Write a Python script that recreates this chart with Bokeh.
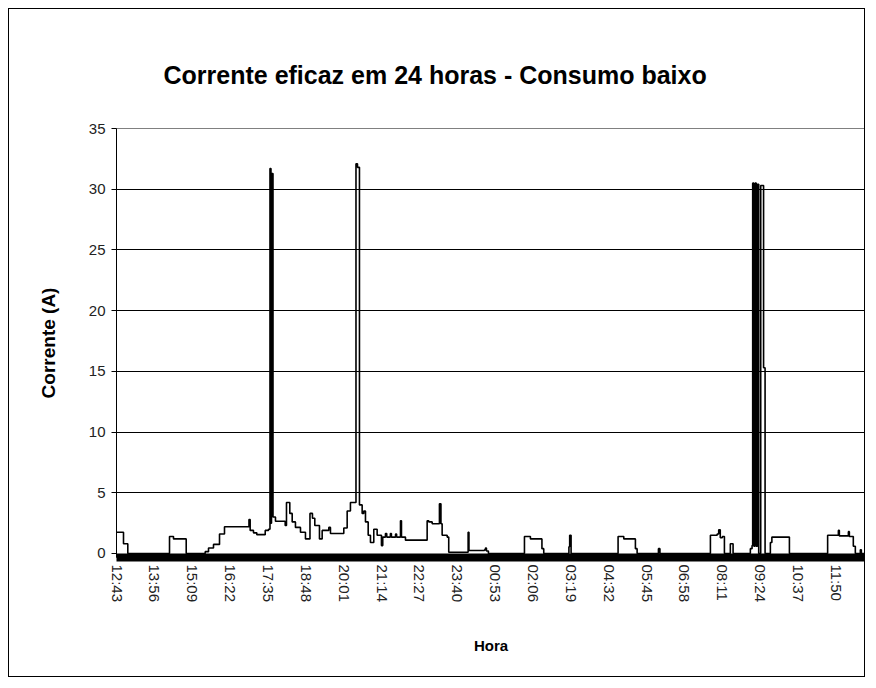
from bokeh.plotting import figure
from bokeh.models import Range1d, FixedTicker
from bokeh.embed import file_html
from bokeh.resources import INLINE

# minutes after 12:43 at which the reading changes, and the current (A) from there on
minutes = [0, 12.5, 20.8, 101.2, 108.9, 133.4, 170, 176.4, 186, 197.6, 207.2, 254.4, 256.7, 263.1,
           269.5, 285.7, 292, 294.9, 296.8, 297.8, 300.7, 305.5, 324.2, 326.7, 333.1, 337.7, 344,
           353.7, 363.3, 372, 376.8, 381.3, 390.3, 395.5, 408.3, 411.5, 437.2, 443.7, 450, 460.7,
           463.6, 467.4, 472.6, 475.7, 479, 484.2, 488.6, 495, 501.5, 509.8, 512.3, 517.5, 520,
           527, 529, 537, 539, 546.5, 548.4, 556.1, 597.9, 601, 607.6, 621.6, 624.5, 626.8, 636.5,
           639.5, 676.9, 678.5, 708.4, 710.3, 712.2, 716, 785.5, 797, 819.2, 822.7, 871.2, 872.7,
           875.4, 966, 977, 999.4, 1002.7, 1043.8, 1046.7, 1144, 1157, 1160, 1163, 1167, 1171,
           1182.4, 1187.7, 1221, 1224.3, 1225.5, 1227.8, 1230.1, 1232.4, 1234.7, 1237.1, 1241,
           1246.5, 1249.4, 1259.6, 1262.5, 1296.3, 1370, 1390.7, 1392.6, 1410, 1411.9, 1419.5,
           1423.4, 1433, 1435, 1440]
current = [1.75, 0.8, 0, 1.4, 1.2, 0, 0.15, 0.45, 0.75, 1.6, 2.2, 2.8, 1.9, 1.7,
           1.55, 1.9, 2.0, 31.7, 2.5, 31.3, 3.0, 2.65, 2.3, 4.2, 3.3, 2.6, 2.15,
           1.75, 1.2, 3.3, 2.9, 2.3, 1.2, 1.9, 2.15, 1.65, 2.1, 3.5, 4.2, 32.1,
           31.8, 4.0, 3.3, 3.5, 2.6, 1.5, 0.9, 2.0, 1.5, 0.65, 1.35, 1.65, 1.35,
           1.65, 1.35, 1.6, 1.35, 2.7, 1.35, 1.1, 2.7, 2.6, 2.45, 4.1, 2.45, 1.5, 1.35,
           0.1, 1.75, 0.25, 0.3, 0.45, 0.2, 0, 1.4, 1.2, 0.4, 0, 0.55, 1.5,
           0, 1.4, 1.2, 0.4, 0, 0.4, 0, 1.5, 1.6, 1.95, 1.3, 1.4, 0,
           0.8, 0, 0.4, 0.65, 30.5, 0.6, 30.5, 0.6, 30.4, 0, 30.3,
           15.3, 0, 0.9, 1.35, 0, 1.5, 1.9, 1.45, 1.8, 1.4, 0.6,
           0, 0.3, 0, 0]

tick_minutes = [0, 73, 146, 219, 292, 365, 438, 511, 584, 657, 730, 803, 876, 949, 1022,
                1095, 1168, 1241, 1314, 1387]
tick_labels = ["12:43", "13:56", "15:09", "16:22", "17:35", "18:48", "20:01", "21:14", "22:27",
               "23:40", "00:53", "02:06", "03:19", "04:32", "05:45", "06:58", "08:11", "09:24",
               "10:37", "11:50"]
y_ticks = [0, 5, 10, 15, 20, 25, 30, 35]
grid_ticks = [5, 10, 15, 20, 25, 30]

FONT = "Liberation Sans"

p = figure(width=857, height=669, output_backend="svg", toolbar_location=None,
           x_range=Range1d(-1, 1443), y_range=Range1d(-0.33, 35),
           min_border_left=107, min_border_right=1, min_border_top=119, min_border_bottom=121)
p.styles = {"border": "1px solid #000000", "margin": "8px 0px 0px 8px"}
p.background_fill_color = "white"
p.border_fill_color = "white"
p.outline_line_color = "#808080"
p.outline_line_width = 1

p.title.text = "Corrente eficaz em 24 horas - Consumo baixo"
p.title.text_font = FONT
p.title.text_font_style = "bold"
p.title.text_font_size = "25px"
p.title.text_color = "#000000"
p.title.align = "left"
p.title.offset = 47
p.title.standoff = 80

p.step(minutes, current, mode="after", line_color="#000000", line_width=1.6)

# grids
p.xgrid.visible = False
p.ygrid.ticker = FixedTicker(ticks=grid_ticks)
p.ygrid.grid_line_color = "#000000"
p.ygrid.grid_line_width = 1

# y axis
p.yaxis.ticker = FixedTicker(ticks=y_ticks)
p.yaxis.axis_label = "Corrente (A)"
p.yaxis.axis_line_color = "#000000"
p.yaxis.major_tick_in = 0
p.yaxis.major_tick_out = 5
p.yaxis.minor_tick_line_color = None
p.yaxis.major_label_standoff = 6
p.yaxis.axis_label_standoff = 27

# x axis
p.xaxis.ticker = FixedTicker(ticks=tick_minutes)
p.xaxis.major_label_overrides = dict(zip(tick_minutes, tick_labels))
p.xaxis.major_label_orientation = "vertical"
p.xaxis.axis_label = "Hora"
p.xaxis.axis_line_width = 8
p.xaxis.axis_line_color = "#000000"
p.xaxis.major_tick_line_color = None
p.xaxis.minor_tick_line_color = None
p.xaxis.major_label_standoff = 1
p.xaxis.axis_label_standoff = 32

for ax in (p.xaxis, p.yaxis):
    ax.major_label_text_font = FONT
    ax.major_label_text_font_size = "15px"
    ax.major_label_text_color = "#222222"
    ax.axis_label_text_font = FONT
    ax.axis_label_text_font_style = "bold"
    ax.axis_label_text_color = "#000000"
p.yaxis.axis_label_text_font_size = "19px"
p.xaxis.axis_label_text_font_size = "15px"

open("out.html", "w").write(file_html(p, INLINE))
